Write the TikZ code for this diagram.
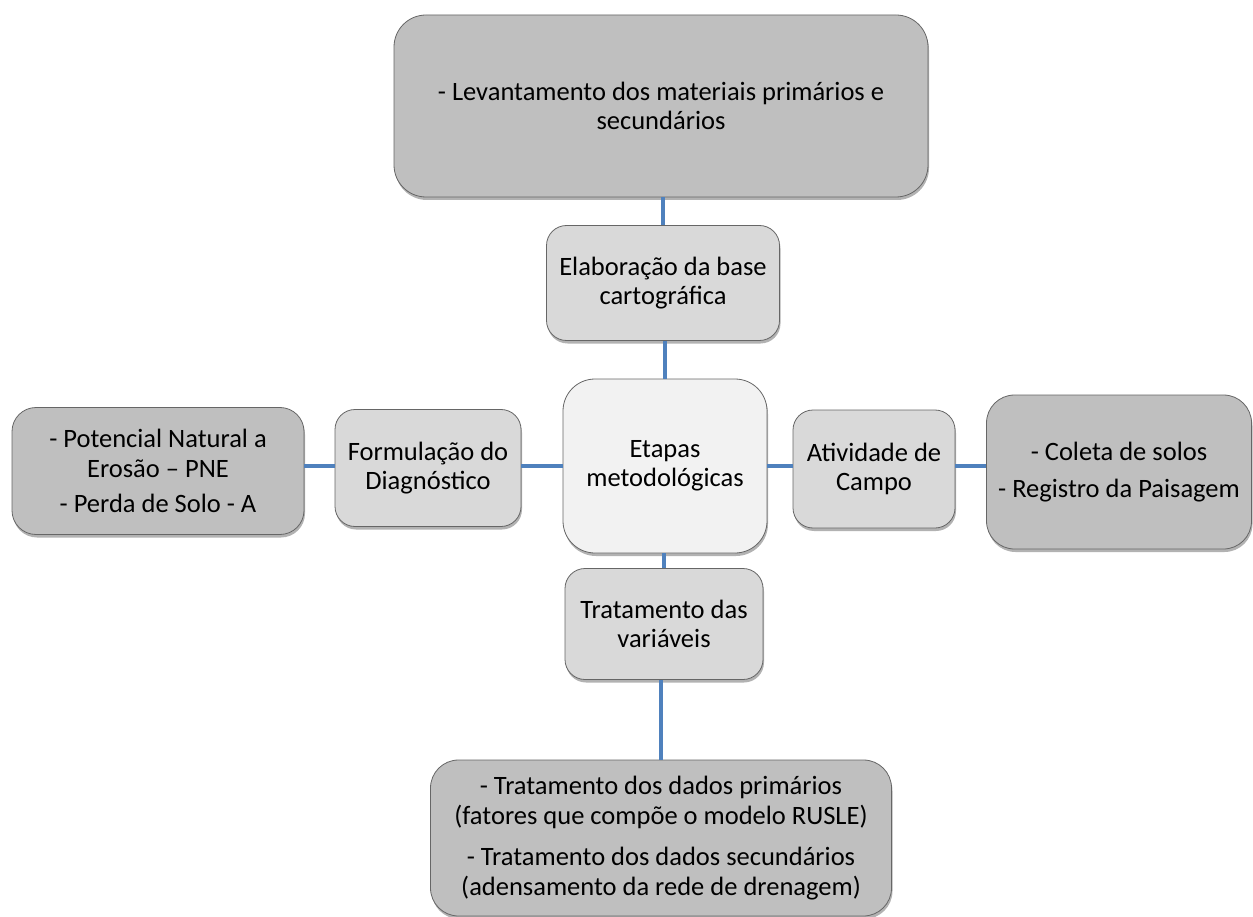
\documentclass[tikz,border=0pt]{standalone}
\usepackage{fontspec}
\setmainfont{Carlito}
\usetikzlibrary{shadows}

\definecolor{caixaescura}{HTML}{BFBFBF}
\definecolor{caixamedia}{HTML}{D9D9D9}
\definecolor{caixaclara}{HTML}{F2F2F2}
\definecolor{contorno}{HTML}{666666}
\definecolor{ligacao}{HTML}{4F81BD}

\tikzset{
	caixa/.style={draw=contorno, line width=0.8pt, align=center, inner sep=3pt,
		font=\fontsize{26.5}{29.5}\selectfont,
		drop shadow={shadow xshift=1pt, shadow yshift=-3pt, opacity=0.3, fill=black}},
	escura/.style={caixa, fill=caixaescura},
	media/.style={caixa, fill=caixamedia, rounded corners=20pt},
	ligar/.style={draw=ligacao, line width=4pt},
}

\begin{document}
\begin{tikzpicture}[x=1pt, y=-1pt] % tikzpicture環境開始
\useasboundingbox (0,0) rectangle (1253,917);

\node[escura, rounded corners=32pt, minimum width=534pt, minimum height=182pt] (levantamento) at (661,106)
	{- Levantamento dos materiais primários e\\secundários};
\node[media, minimum width=233pt, minimum height=115pt] (base) at (663,283)
	{Elaboração da base\\cartográfica};
\node[caixa, fill=caixaclara, rounded corners=32pt, minimum width=204pt, minimum height=174pt] (etapas) at (665,466)
	{Etapas\\metodológicas};
\node[media, minimum width=186pt, minimum height=117pt] (diagnostico) at (428,468)
	{Formulação do\\Diagnóstico};
\node[escura, rounded corners=24pt, minimum width=292pt, minimum height=127pt] (erosao) at (158,471)
	{- Potencial Natural a\\Erosão -- PNE\\[6pt]- Perda de Solo - A};
\node[media, minimum width=162pt, minimum height=118pt] (campo) at (874,469)
	{Atividade de\\Campo};
\node[escura, rounded corners=28pt, minimum width=265pt, minimum height=154pt] (coleta) at (1119,472)
	{- Coleta de solos\\[8pt]- Registro da Paisagem};
\node[media, minimum width=198pt, minimum height=111pt] (variaveis) at (664,624)
	{Tratamento das\\variáveis};
\node[escura, rounded corners=28pt, minimum width=461pt, minimum height=156pt] (dados) at (661,838)
	{- Tratamento dos dados primários\\(fatores que compõe o modelo RUSLE)\\[12pt]- Tratamento dos dados secundários\\(adensamento da rede de drenagem)};

% ligacoes verticais
\foreach \a/\b in%
{%
	levantamento/base, base/etapas, etapas/variaveis, variaveis/dados%
}{%
	\draw[ligar] (\b.north) -- (\b.north |- \a.south);
}%
% ligacoes horizontais
\foreach \a/\b in%
{%
	erosao/diagnostico, diagnostico/etapas, etapas/campo, campo/coleta%
}{%
	\draw[ligar] (\a.east |- 0,466) -- (\b.west |- 0,466);
}%
\end{tikzpicture}
\end{document}
